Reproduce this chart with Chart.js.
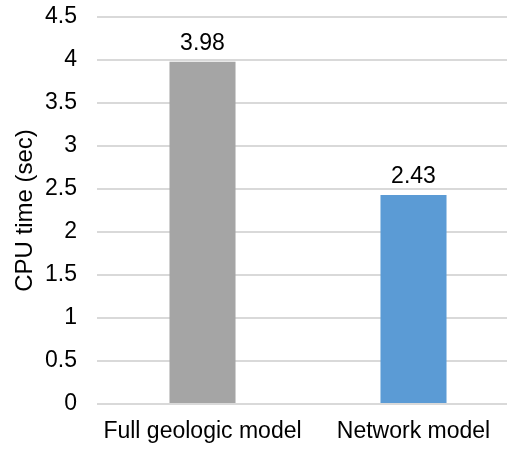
<!DOCTYPE html>
<html>
<head>
<meta charset="utf-8">
<script src="https://cdn.jsdelivr.net/npm/chart.js@4"></script>
<style>
  html, body { margin: 0; padding: 0; background: #fff; overflow: hidden; }
  #wrap { position: relative; width: 519px; height: 451px; }
</style>
</head>
<body>
<div id="wrap"><canvas id="chart"></canvas></div>
<script>
// CPU time comparison of the two models
const categories = ['Full geologic model', 'Network model'];
const cpuSeconds = [3.98, 2.43];
const barColors = ['#a5a5a5', '#5b9bd5'];
const yTicks = [0, 0.5, 1, 1.5, 2, 2.5, 3, 3.5, 4, 4.5];

const FONT = '"Liberation Sans", Arial, sans-serif';

// writes each bar's value above it
const valueLabels = {
  id: 'valueLabels',
  afterDatasetsDraw(chart) {
    const ctx = chart.ctx;
    const meta = chart.getDatasetMeta(0);
    ctx.save();
    ctx.font = '23px ' + FONT;
    ctx.fillStyle = '#000';
    ctx.textAlign = 'center';
    ctx.textBaseline = 'alphabetic';
    meta.data.forEach((bar, i) => {
      ctx.fillText(String(cpuSeconds[i]), bar.x, bar.y - 12);
    });
    ctx.restore();
  }
};

new Chart(document.getElementById('chart'), {
  type: 'bar',
  data: {
    labels: categories,
    datasets: [{
      data: cpuSeconds,
      backgroundColor: barColors,
      borderWidth: 0,
      categoryPercentage: 1,
      barPercentage: 0.313
    }]
  },
  options: {
    responsive: true,
    maintainAspectRatio: false,
    animation: false,
    events: [],
    layout: { padding: { top: 17, right: 0, bottom: 0, left: 0 } },
    plugins: {
      legend: { display: false },
      tooltip: { enabled: false }
    },
    scales: {
      x: {
        grid: { display: false, drawTicks: false },
        border: { display: false },
        ticks: {
          color: '#000',
          font: { family: FONT, size: 23 },
          padding: 14,
          maxRotation: 0,
          autoSkip: false
        },
        afterFit(axis) {
          axis.paddingLeft = 0;
          axis.paddingRight = 0;
          axis.height = 47;
        }
      },
      y: {
        min: 0,
        max: 4.5,
        afterBuildTicks(axis) {
          axis.ticks = yTicks.map(v => ({ value: v }));
        },
        afterFit(axis) {
          axis.paddingTop = 0;
          axis.paddingBottom = 0;
          axis.width = 97;
        },
        grid: { color: '#d9d9d9', lineWidth: 2, drawTicks: false },
        border: { display: false },
        ticks: {
          color: '#000',
          font: { family: FONT, size: 23 },
          padding: 20,
          callback: v => String(v)
        },
        title: {
          display: true,
          text: 'CPU time (sec)',
          color: '#000',
          font: { family: FONT, size: 24 },
          padding: { top: 11, bottom: 8 }
        }
      }
    }
  },
  plugins: [valueLabels]
});
</script>
</body>
</html>
